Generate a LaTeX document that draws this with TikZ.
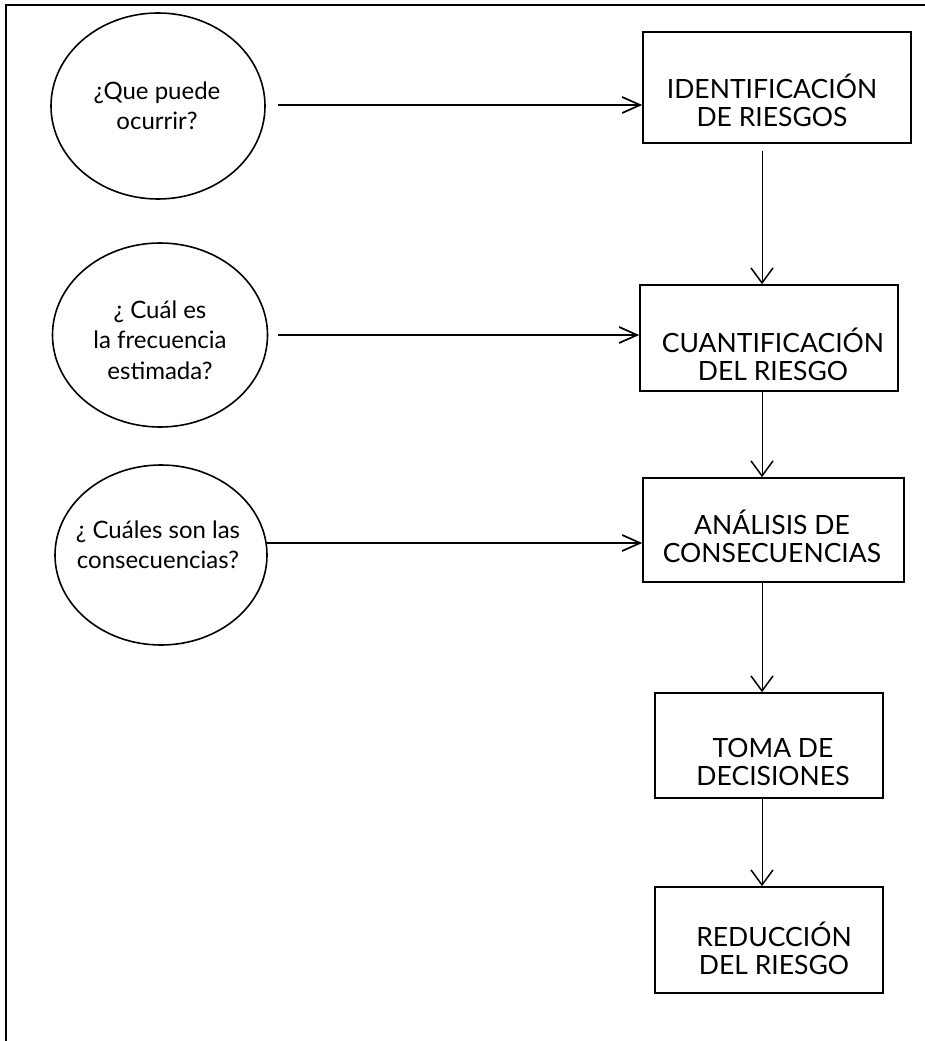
\documentclass[tikz,border=0pt]{standalone}
\usepackage{fontspec}
\setmainfont{Lato}
\usetikzlibrary{shapes.geometric,arrows.meta,calc}
\begin{document}
\begin{tikzpicture}[x=1pt,y=-1pt,
  question/.style={draw, ellipse, line width=1.6pt, inner sep=0pt},
  stepbox/.style={draw, rectangle, line width=1.6pt, inner sep=0pt},
  qtext/.style={align=center, font=\fontsize{24}{30.5}\selectfont, inner sep=0pt},
  btext/.style={align=center, font=\fontsize{26.5}{28}\selectfont, inner sep=0pt},
  harrow/.style={line width=1.7pt, -{Straight Barb[length=18pt,width=16pt,line width=1.7pt]}},
  varrow/.style={line width=1pt, -{Straight Barb[length=15pt,width=22pt,line width=1.5pt]}}
]
\useasboundingbox (0,0) rectangle (925,1041);
% frame (top and left only)
\draw[line width=2pt] (925,5) -- (6,5) -- (6,1041);

% questions
\node[question, minimum width=214pt, minimum height=186pt] (q1) at (158,106) {};
\node[question, minimum width=215pt, minimum height=184pt] (q2) at (160,335) {};
\node[question, minimum width=212pt, minimum height=180pt] (q3) at (161,555) {};
\node[qtext] (t1) at (157,106) {¿Que puede\\ocurrir?};
\node[qtext] (t2) at (160,340) {¿ Cuál es\\la frecuencia\\estimada?};
\node[qtext] (t3) at (158,545) {¿ Cuáles son las\\consecuencias?};

% steps
\node[stepbox, minimum width=268pt, minimum height=111pt] (b1) at (777,87.5) {};
\node[stepbox, minimum width=258pt, minimum height=106pt] (b2) at (769,338) {};
\node[stepbox, minimum width=261pt, minimum height=104pt] (b3) at (773.5,530) {};
\node[stepbox, minimum width=228pt, minimum height=105pt] (b4) at (769,745.5) {};
\node[stepbox, minimum width=228pt, minimum height=106pt] (b5) at (769,940) {};
\node[btext] (s1) at (772,100) {IDENTIFICACIÓN\\DE RIESGOS};
\node[btext] (s2) at (773,354) {CUANTIFICACIÓN\\DEL RIESGO};
\node[btext] (s3) at (772,536) {ANÁLISIS DE\\CONSECUENCIAS};
\node[btext] (s4) at (773,762) {TOMA DE\\DECISIONES};
\node[btext] (s5) at (774,948) {REDUCCIÓN\\DEL RIESGO};

% horizontal connectors
\coordinate (a1) at (278,105);
\coordinate (a2) at (278,335);
\coordinate (a3) at (267,543);
\draw[harrow] (a1) -- (a1 -| b1.west);
\draw[harrow] (a2) -- (a2 -| b2.west);
\draw[harrow] (a3) -- (a3 -| b3.west);

% vertical connectors
\coordinate (v) at (762,0);
\draw[varrow, shorten <=7pt] (v |- b1.south) -- (v |- b2.north);
\draw[varrow] (v |- b2.south) -- (v |- b3.north);
\draw[varrow] (v |- b3.south) -- (v |- b4.north);
\draw[varrow] (v |- b4.south) -- (v |- b5.north);
\end{tikzpicture}
\end{document}
